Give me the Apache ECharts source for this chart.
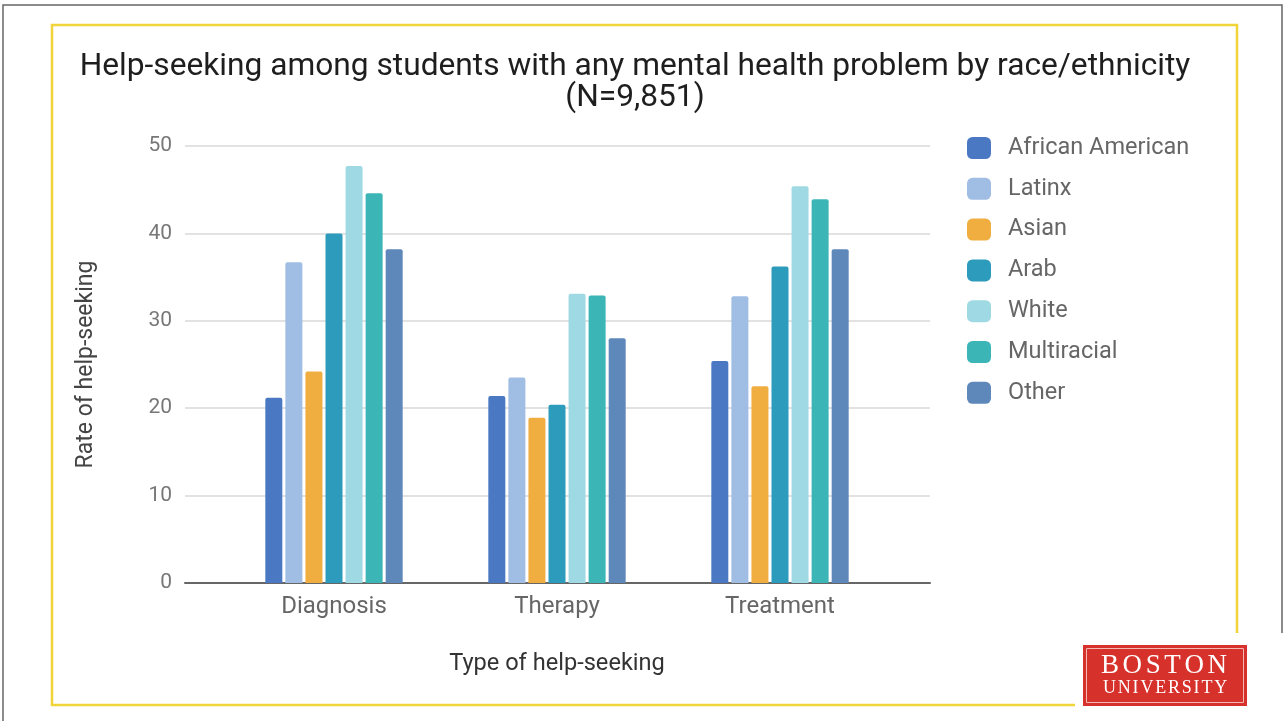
<!DOCTYPE html>
<html>
<head>
<meta charset="utf-8">
<script src="https://cdn.jsdelivr.net/npm/echarts@6/dist/echarts.min.js"></script>
<style>
html,body{margin:0;padding:0;background:#fff;}
#chart{width:1285px;height:721px;}
</style>
</head>
<body>
<div id="chart"></div>
<script>
const categories = ['Diagnosis', 'Therapy', 'Treatment'];
const seriesNames = ['African American', 'Latinx', 'Asian', 'Arab', 'White', 'Multiracial', 'Other'];
const africanAmerican = [21.2, 21.4, 25.4];
const latinx = [36.7, 23.5, 32.8];
const asian = [24.2, 18.9, 22.5];
const arab = [40.0, 20.4, 36.2];
const white = [47.7, 33.1, 45.4];
const multiracial = [44.6, 32.9, 43.9];
const other = [38.2, 28.0, 38.2];
const yTicks = [0, 10, 20, 30, 40, 50];
const titleLines = ['Help-seeking among students with any mental health problem by race/ethnicity', '(N=9,851)'];

const seriesData = [africanAmerican, latinx, asian, arab, white, multiracial, other];
const colors = ['#4a78c2', '#a0bde3', '#f0ad40', '#2d9bbb', '#9fd9e3', '#3bb5b6', '#5e87ba'];

const chart = echarts.init(document.getElementById('chart'), null, {renderer: 'canvas'});
const FONT = 'Roboto';

// logo letters (decoration)
function spacedText(str, x, y, fontSize, spacing) {
  const els = [];
  const ctx = document.createElement('canvas').getContext('2d');
  const font = fontSize + 'px "Liberation Serif", "DejaVu Serif", serif';
  ctx.font = font;
  let cx = x;
  for (const ch of str) {
    els.push({type: 'text', x: cx, y: y, z: 12, silent: true,
      style: {text: ch, fill: '#fff', font: font, verticalAlign: 'top'}});
    cx += ctx.measureText(ch).width + spacing;
  }
  return els;
}

const option = {
  backgroundColor: '#fff',
  animation: false,
  textStyle: {fontFamily: FONT},
  legend: {
    orient: 'vertical',
    left: 967,
    top: 136,
    padding: 0,
    itemWidth: 24,
    itemHeight: 22,
    itemGap: 16.8,
    icon: 'roundRect',
    textStyle: {fontFamily: FONT, fontSize: 23.5, color: '#666', padding: [0, 0, 0, 12]},
    data: seriesNames
  },
  grid: [
    {left: 185, right: 355, top: 146, bottom: 138},
    {left: 222.5, right: 393.5, top: 146, bottom: 138}
  ],
  xAxis: [
    {
      gridIndex: 0, type: 'value', min: 0, max: 1,
      axisLine: {show: true, lineStyle: {color: '#666', width: 2}},
      axisTick: {show: false}, axisLabel: {show: false}, splitLine: {show: false}
    },
    {
      gridIndex: 1, type: 'category', data: categories,
      axisLine: {show: false}, axisTick: {show: false},
      axisLabel: {fontFamily: FONT, fontSize: 24, color: '#666', margin: 12},
      name: 'Type of help-seeking', nameLocation: 'middle', nameGap: 69,
      nameTextStyle: {fontFamily: FONT, fontSize: 23.6, color: '#333'}
    }
  ],
  yAxis: [
    {
      gridIndex: 0, type: 'value', min: yTicks[0], max: yTicks[yTicks.length - 1], interval: 10,
      axisLine: {show: false}, axisTick: {show: false},
      axisLabel: {fontFamily: FONT, fontSize: 21, color: '#777', margin: 13},
      splitLine: {show: true, lineStyle: {color: '#d9d9d9', width: 1.5}},
      name: 'Rate of help-seeking', nameLocation: 'middle', nameGap: 87,
      nameTextStyle: {fontFamily: FONT, fontSize: 23, color: '#444'}
    },
    {
      gridIndex: 1, type: 'value', min: yTicks[0], max: yTicks[yTicks.length - 1], interval: 10,
      show: false, splitLine: {show: false}
    }
  ],
  series: seriesNames.map((n, i) => ({
    name: n,
    type: 'bar',
    xAxisIndex: 1,
    yAxisIndex: 1,
    data: seriesData[i],
    barWidth: 17,
    barGap: '18%',
    itemStyle: {color: colors[i], borderRadius: [2, 2, 0, 0]},
    z: 3
  })),
  graphic: [
    {type: 'rect', shape: {x: 3, y: 5, width: 1279, height: 722}, style: {fill: 'none', stroke: '#666', lineWidth: 1.5}, silent: true},
    {type: 'rect', shape: {x: 52, y: 25, width: 1185, height: 680}, style: {fill: 'none', stroke: '#f0d43a', lineWidth: 2.5}, silent: true},
    {type: 'text', x: 635, y: 52, silent: true,
     style: {text: titleLines.join('\n'), fill: '#1e1e1e', font: '31.7px Roboto', align: 'center', verticalAlign: 'top', lineHeight: 31}},
    {type: 'rect', shape: {x: 1075, y: 633, width: 215, height: 90}, style: {fill: '#fff'}, silent: true, z: 10},
    {type: 'rect', shape: {x: 1083, y: 645, width: 164, height: 61}, style: {fill: '#d7312c'}, silent: true, z: 11},
    {type: 'rect', shape: {x: 1086.5, y: 648.5, width: 157, height: 54}, style: {fill: 'none', stroke: '#f3b8b4', lineWidth: 1}, silent: true, z: 12}
  ].concat(spacedText('BOSTON', 1101, 652, 27, 3.6), spacedText('UNIVERSITY', 1103, 679, 18, 1.8))
};
chart.setOption(option);
</script>
</body>
</html>
